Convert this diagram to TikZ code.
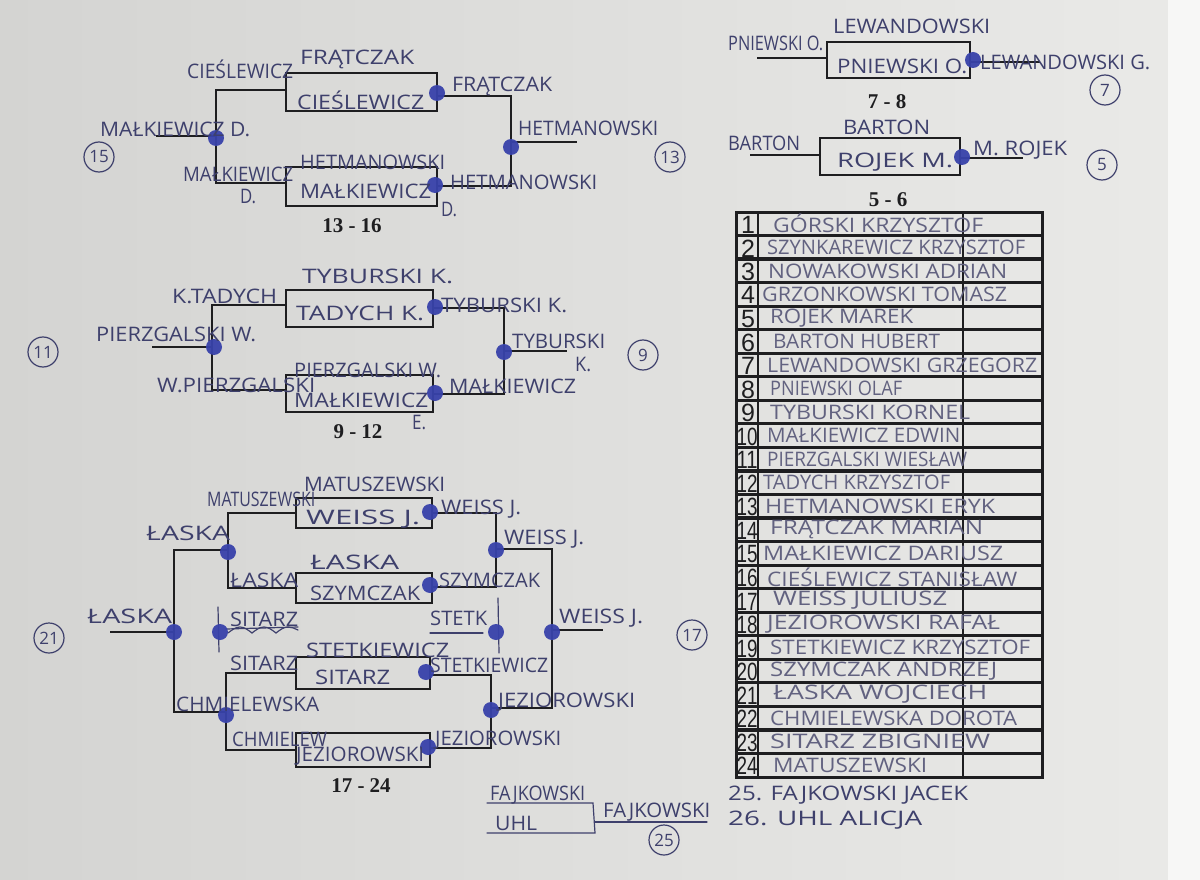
\documentclass[tikz,border=0pt]{standalone}
\usepackage{fontspec}
\usepackage{graphicx}
\setmainfont{Liberation Serif}
\newfontfamily\handf{Open Sans}
\newfontfamily\sansf{Liberation Sans}
\newfontfamily\seriff{Liberation Serif}
\definecolor{printk}{RGB}{30,30,32}
\definecolor{ink}{RGB}{62,64,108}
\definecolor{inkl}{RGB}{98,98,128}
\definecolor{dotc}{RGB}{56,66,170}
\definecolor{bgl}{RGB}{212,212,210}
\definecolor{bgr}{RGB}{234,234,232}
\newcommand\hw[2]{\resizebox{#1pt}{\height}{#2}}
\newcommand\bd[2]{\node[bdot] (#1) at (#2) {};}
\tikzset{
  pline/.style={draw=printk, line width=2.8pt},
  hline/.style={draw=ink, line width=1.2pt, line cap=round},
  mbox/.style={draw=printk, line width=2.8pt, inner sep=0pt},
  hwt/.style={inner sep=0pt, anchor=west, text=ink, font=\handf\fontsize{20}{20}\selectfont},
  tname/.style={hwt, text=inkl},
  bdot/.style={circle, fill=dotc, inner sep=0pt, minimum size=16pt, opacity=0.95},
  ring/.style={circle, draw=ink, line width=1.2pt, minimum size=30pt, inner sep=0pt, text=ink, font=\handf\fontsize{17}{17}\selectfont},
  plab/.style={inner sep=0pt, text=printk, font=\seriff\bfseries\fontsize{21}{21}\selectfont},
  tnum/.style={inner sep=0pt, text=printk, font=\sansf\fontsize{25}{25}\selectfont},
}
\begin{document}
\begin{tikzpicture}[x=1pt,y=-1pt]
\useasboundingbox (0,0) rectangle (1200,880);
\shade[left color=bgl, right color=bgr] (0,0) rectangle (1200,880);
\fill[white!60!bgr] (1168,0) rectangle (1200,880);

% ================= 13 - 16 =================
\node[mbox, minimum width=151pt, minimum height=38pt] (a-box1) at (361.5,92) {};
\node[mbox, minimum width=151pt, minimum height=39pt] (a-box2) at (361.5,186.5) {};
\coordinate (a-l1) at (286,90); \coordinate (a-j1) at (216,90);
\coordinate (a-j2) at (216,183); \coordinate (a-l2) at (286,183);
\coordinate (a-in) at (156,136); \coordinate (a-jm) at (216,136);
\coordinate (a-r1) at (437,96); \coordinate (a-k1) at (511,96);
\coordinate (a-k2) at (511,186); \coordinate (a-r2) at (437,186);
\coordinate (a-km) at (511,142); \coordinate (a-out) at (577,142);
\draw[pline] (a-l1) -- (a-j1) -- (a-j2) -- (a-l2);
\draw[pline] (a-in) -- (a-jm);
\draw[pline] (a-r1) -- (a-k1) -- (a-k2) -- (a-r2);
\draw[pline] (a-km) -- (a-out);
\bd{a-d1}{216,138} \bd{a-d2}{437,93} \bd{a-d3}{435,185} \bd{a-d4}{511,147}
\node[hwt] (a-t1) at (187,69) {\hw{106}{CIEŚLEWICZ}};
\node[hwt] (a-t2) at (300,59) {\hw{114}{FRĄTCZAK}};
\node[hwt] (a-t3) at (297,100) {\hw{127}{CIEŚLEWICZ}};
\node[hwt] (a-t4) at (452,86) {\hw{100}{FRĄTCZAK}};
\node[hwt] (a-t5) at (100,129) {\hw{150}{MAŁKIEWICZ D.}};
\node[hwt] (a-t6) at (300,162) {\hw{145}{HETMANOWSKI}};
\node[hwt] (a-t7) at (183,174) {\hw{110}{MAŁKIEWICZ}};
\node[hwt] (a-t8) at (240,197) {\hw{16}{D.}};
\node[hwt] (a-t9) at (300,191) {\hw{131}{MAŁKIEWICZ}};
\node[hwt] (a-t10) at (441,210) {\hw{16}{D.}};
\node[hwt] (a-t11) at (450,182) {\hw{147}{HETMANOWSKI}};
\node[hwt] (a-t12) at (518,128) {\hw{140}{HETMANOWSKI}};
\node[plab] (a-lab) at (352,226) {13 - 16};
\node[ring] (a-c15) at (99,157) {15};
\node[ring] (a-c13) at (670,157) {13};

% ================= 9 - 12 =================
\node[mbox, minimum width=147pt, minimum height=37pt] (b-box1) at (359.5,308.5) {};
\node[mbox, minimum width=147pt, minimum height=37pt] (b-box2) at (359.5,393.5) {};
\coordinate (b-l1) at (286,305); \coordinate (b-j1) at (212,305);
\coordinate (b-j2) at (212,390); \coordinate (b-l2) at (286,390);
\coordinate (b-in) at (152,347); \coordinate (b-jm) at (212,347);
\coordinate (b-r1) at (433,308); \coordinate (b-k1) at (504,308);
\coordinate (b-k2) at (504,394); \coordinate (b-r2) at (433,394);
\coordinate (b-km) at (504,351); \coordinate (b-out) at (567,351);
\draw[pline] (b-l1) -- (b-j1) -- (b-j2) -- (b-l2);
\draw[pline] (b-in) -- (b-jm);
\draw[pline] (b-r1) -- (b-k1) -- (b-k2) -- (b-r2);
\draw[pline] (b-km) -- (b-out);
\bd{b-d1}{214,347} \bd{b-d2}{435,307} \bd{b-d3}{435,393} \bd{b-d4}{504,352}
\node[hwt] (b-t1) at (302,276) {\hw{151}{TYBURSKI K.}};
\node[hwt] (b-t2) at (172,296) {\hw{105}{K.TADYCH}};
\node[hwt] (b-t3) at (296,313) {\hw{128}{TADYCH K.}};
\node[hwt] (b-t4) at (441,305) {\hw{126}{TYBURSKI K.}};
\node[hwt] (b-t5) at (96,334) {\hw{160}{PIERZGALSKI W.}};
\node[hwt] (b-t6) at (512,341) {\hw{93}{TYBURSKI}};
\node[hwt] (b-t7) at (575,365) {\hw{16}{K.}};
\node[hwt] (b-t8) at (294,370) {\hw{147}{PIERZGALSKI W.}};
\node[hwt] (b-t9) at (157,385) {\hw{158}{W.PIERZGALSKI}};
\node[hwt] (b-t10) at (294,400) {\hw{134}{MAŁKIEWICZ}};
\node[hwt] (b-t11) at (449,386) {\hw{127}{MAŁKIEWICZ}};
\node[hwt] (b-t12) at (412,423) {\hw{14}{E.}};
\node[plab] (b-lab) at (358,432) {9 - 12};
\node[ring] (b-c11) at (43,352) {11};
\node[ring] (b-c9) at (643,355) {9};

% ================= 17 - 24 =================
\node[mbox, minimum width=136pt, minimum height=30pt] (c-box1) at (364,513) {};
\node[mbox, minimum width=136pt, minimum height=30pt] (c-box2) at (364,588) {};
\node[mbox, minimum width=134pt, minimum height=32pt] (c-box3) at (363,673) {};
\node[mbox, minimum width=134pt, minimum height=34pt] (c-box4) at (363,750) {};
\coordinate (c-l1) at (296,513); \coordinate (c-j1) at (228,513);
\coordinate (c-j2) at (228,588); \coordinate (c-l2) at (296,588);
\coordinate (c-l3) at (296,673); \coordinate (c-j3) at (226,673);
\coordinate (c-j4) at (226,750); \coordinate (c-l4) at (296,750);
\coordinate (c-r1) at (432,513); \coordinate (c-k1) at (496,513);
\coordinate (c-k2) at (496,587); \coordinate (c-r2) at (432,587);
\coordinate (c-r3) at (430,675); \coordinate (c-k3) at (491,675);
\coordinate (c-k4) at (491,748); \coordinate (c-r4) at (430,748);
\coordinate (c-ju) at (228,550); \coordinate (c-o1) at (174,550);
\coordinate (c-o2) at (174,712); \coordinate (c-jl) at (226,712);
\coordinate (c-ku) at (496,549); \coordinate (c-p1) at (552,549);
\coordinate (c-p2) at (552,708); \coordinate (c-kl) at (491,708);
\coordinate (c-in) at (110,632); \coordinate (c-om) at (174,632);
\coordinate (c-pm) at (552,630); \coordinate (c-out) at (603,630);
\draw[pline] (c-l1) -- (c-j1) -- (c-j2) -- (c-l2);
\draw[pline] (c-l3) -- (c-j3) -- (c-j4) -- (c-l4);
\draw[pline] (c-r1) -- (c-k1) -- (c-k2) -- (c-r2);
\draw[pline] (c-r3) -- (c-k3) -- (c-k4) -- (c-r4);
\draw[pline] (c-ju) -- (c-o1) -- (c-o2) -- (c-jl);
\draw[pline] (c-ku) -- (c-p1) -- (c-p2) -- (c-kl);
\draw[pline] (c-in) -- (c-om);
\draw[pline] (c-pm) -- (c-out);
% handwritten third-place marks
\coordinate (c-s1) at (218,607); \coordinate (c-s2) at (219,652);
\coordinate (c-s3) at (498,598); \coordinate (c-s4) at (499,653);
\draw[hline] (c-s1) -- (c-s2);
\draw[hline] (c-s3) -- (c-s4);
\draw[hline] (226,629) -- (298,627);
\draw[hline] (228,633) sin (240,627) cos (252,633) sin (264,627) cos (276,633) sin (288,627) cos (298,630);
\draw[hline] (430,633) -- (483,633);
\bd{c-d1}{430,512} \bd{c-d2}{430,585} \bd{c-d3}{228,552} \bd{c-d4}{496,550}
\bd{c-d5}{174,632} \bd{c-d6}{220,632} \bd{c-d7}{496,632} \bd{c-d8}{552,632}
\bd{c-d9}{426,672} \bd{c-d10}{428,747} \bd{c-d11}{226,715} \bd{c-d12}{491,710}
\node[hwt] (c-t1) at (304,484) {\hw{141}{MATUSZEWSKI}};
\node[hwt] (c-t2) at (207,499) {\hw{108}{MATUSZEWSKI}};
\node[hwt] (c-t3) at (306,519) {\hw{114}{WEISS J.}};
\node[hwt] (c-t4) at (441,509) {\hw{80}{WEISS J.}};
\node[hwt] (c-t5) at (146,533) {\hw{84}{ŁASKA}};
\node[hwt] (c-t6) at (504,539) {\hw{80}{WEISS J.}};
\node[hwt] (c-t7) at (310,562) {\hw{89}{ŁASKA}};
\node[hwt] (c-t8) at (230,580) {\hw{68}{ŁASKA}};
\node[hwt] (c-t9) at (439,580) {\hw{101}{SZYMCZAK}};
\node[hwt] (c-t10) at (310,593) {\hw{110}{SZYMCZAK}};
\node[hwt] (c-t11) at (87,616) {\hw{85}{ŁASKA}};
\node[hwt] (c-t12) at (230,619) {\hw{68}{SITARZ}};
\node[hwt] (c-t13) at (430,618) {\hw{57}{STETK}};
\node[hwt] (c-t14) at (559,618) {\hw{84}{WEISS J.}};
\node[hwt] (c-t15) at (306,650) {\hw{143}{STETKIEWICZ}};
\node[hwt] (c-t16) at (230,663) {\hw{68}{SITARZ}};
\node[hwt] (c-t17) at (315,677) {\hw{75}{SITARZ}};
\node[hwt] (c-t18) at (430,665) {\hw{118}{STETKIEWICZ}};
\node[hwt] (c-t19) at (176,704) {\hw{143}{CHMIELEWSKA}};
\node[hwt] (c-t20) at (498,702) {\hw{137}{JEZIOROWSKI}};
\node[hwt] (c-t21) at (232,739) {\hw{95}{CHMIELEW}};
\node[hwt] (c-t22) at (296,756) {\hw{128}{JEZIOROWSKI}};
\node[hwt] (c-t23) at (435,740) {\hw{126}{JEZIOROWSKI}};
\node[plab] (c-lab) at (361,786) {17 - 24};
\node[ring] (c-c21) at (49,638) {21};
\node[ring] (c-c17) at (692,635) {17};

% ================= 7 - 8 and 5 - 6 =================
\node[mbox, minimum width=143pt, minimum height=36pt] (d-box) at (898.5,60) {};
\coordinate (d-in) at (757,58); \coordinate (d-l) at (827,58);
\coordinate (d-r) at (970,62); \coordinate (d-out) at (1040,62);
\draw[pline] (d-in) -- (d-l);
\draw[pline] (d-r) -- (d-out);
\bd{d-d1}{973,60}
\node[hwt] (d-t1) at (728,43) {\hw{95}{PNIEWSKI O.}};
\node[hwt] (d-t2) at (833,26) {\hw{157}{LEWANDOWSKI}};
\node[hwt] (d-t3) at (837,66) {\hw{130}{PNIEWSKI O.}};
\node[hwt] (d-t4) at (980,62) {\hw{170}{LEWANDOWSKI G.}};
\node[ring] (d-c7) at (1105,90) {7};
\node[plab] (d-lab) at (887,102) {7 - 8};

\node[mbox, minimum width=140pt, minimum height=37pt] (e-box) at (890,156.5) {};
\coordinate (e-in) at (750,155); \coordinate (e-l) at (820,155);
\coordinate (e-r) at (960,158); \coordinate (e-out) at (1023,158);
\draw[pline] (e-in) -- (e-l);
\draw[pline] (e-r) -- (e-out);
\bd{e-d1}{962,157}
\node[hwt] (e-t1) at (728,143) {\hw{72}{BARTON}};
\node[hwt] (e-t2) at (843,127) {\hw{87}{BARTON}};
\node[hwt] (e-t3) at (837,162) {\hw{116}{ROJEK M.}};
\node[hwt] (e-t4) at (973,150) {\hw{94}{M. ROJEK}};
\node[ring] (e-c5) at (1102,165) {5};
\node[plab] (e-lab) at (888,200) {5 - 6};

% ================= table =================
\draw[draw=printk, line width=3pt] (736,212) rectangle (1042,777);
\foreach \i in {1,...,23} {
  \draw[draw=printk, line width=3.2pt] (736,{212+\i*23.5417}) -- (1042,{212+\i*23.5417});
}
\draw[draw=printk, line width=2.4pt] (758,212) -- (758,777);
\draw[draw=printk, line width=2.4pt] (963,212) -- (963,777);
\foreach \i in {1,...,9} {
  \node[tnum] (n\i) at (748,{213+(\i-0.5)*23.5417}) {\i};
}
\foreach \i in {10,...,24} {
  \node[tnum] (n\i) at (747,{213+(\i-0.5)*23.5417}) {\resizebox{21pt}{\height}{\i}};
}
\foreach \i/\x/\w/\t in {
  1/773/210/GÓRSKI KRZYSZTOF,
  2/767/258/SZYNKAREWICZ KRZYSZTOF,
  3/768/239/NOWAKOWSKI ADRIAN,
  4/762/245/GRZONKOWSKI TOMASZ,
  5/770/143/ROJEK MAREK,
  6/773/167/BARTON HUBERT,
  7/767/270/LEWANDOWSKI GRZEGORZ,
  8/770/132/PNIEWSKI OLAF,
  9/770/200/TYBURSKI KORNEL,
  10/767/193/MAŁKIEWICZ EDWIN,
  11/767/200/PIERZGALSKI WIESŁAW,
  12/763/187/TADYCH KRZYSZTOF,
  13/765/230/HETMANOWSKI ERYK,
  14/770/213/FRĄTCZAK MARIAN,
  15/763/240/MAŁKIEWICZ DARIUSZ,
  16/767/250/CIEŚLEWICZ STANISŁAW,
  17/773/174/WEISS JULIUSZ,
  18/767/233/JEZIOROWSKI RAFAŁ,
  19/770/260/STETKIEWICZ KRZYSZTOF,
  20/770/227/SZYMCZAK ANDRZEJ,
  21/773/214/ŁASKA WOJCIECH,
  22/770/247/CHMIELEWSKA DOROTA,
  23/770/220/SITARZ ZBIGNIEW,
  24/773/154/MATUSZEWSKI} {
  \node[tname] (m\i) at (\x,{212+(\i-0.5)*23.5417}) {\hw{\w}{\t}};
}

% ================= 25 - 26 =================
\coordinate (f-a) at (487,803); \coordinate (f-b) at (593,803);
\coordinate (f-c) at (595,833); \coordinate (f-d) at (487,833);
\coordinate (f-m) at (595,822); \coordinate (f-out) at (707,822);
\draw[hline] (f-a) -- (f-b) -- (f-c) -- (f-d);
\draw[hline] (f-m) -- (f-out);
\node[hwt] (f-t1) at (490,795) {\hw{95}{FAJKOWSKI}};
\node[hwt] (f-t2) at (495,823) {\hw{42}{UHL}};
\node[hwt] (f-t3) at (603,812) {\hw{107}{FAJKOWSKI}};
\node[ring] (f-c25) at (664,840) {25};
\node[hwt] (f-t4) at (728,795) {\hw{240}{25. FAJKOWSKI JACEK}};
\node[hwt] (f-t5) at (728,820) {\hw{194}{26. UHL ALICJA}};
\end{tikzpicture}
\end{document}
